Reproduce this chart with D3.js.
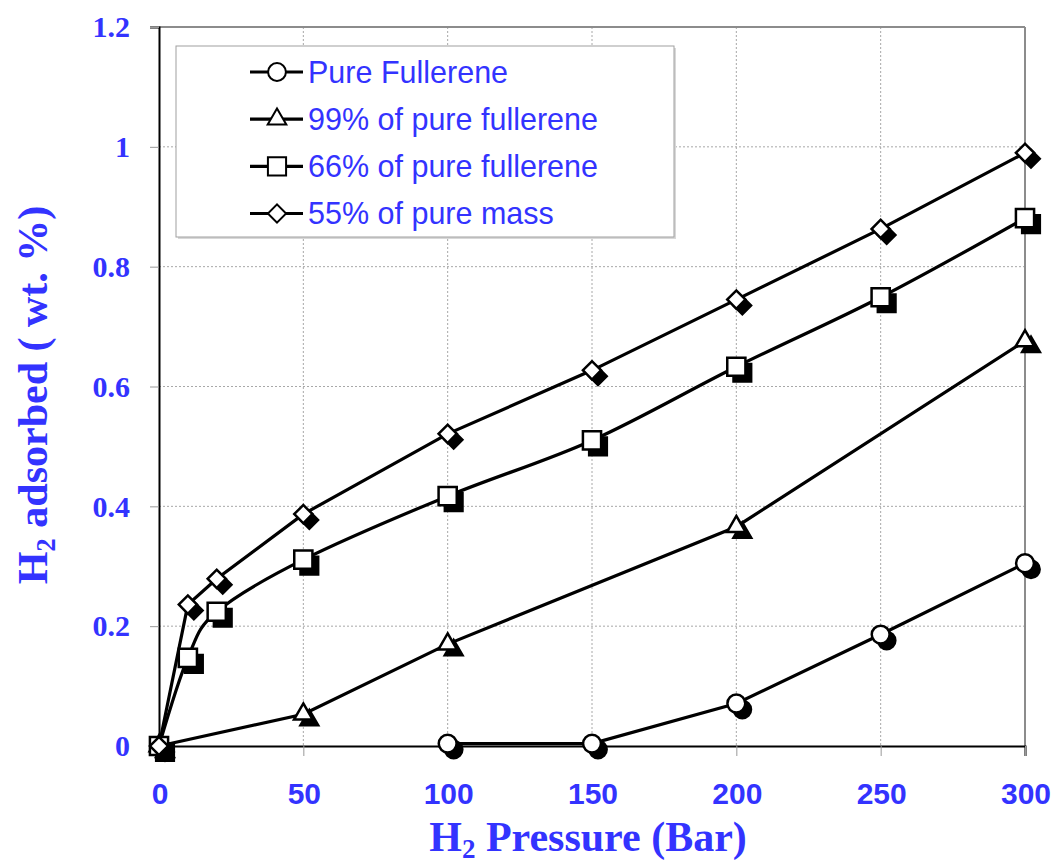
<!DOCTYPE html>
<html>
<head>
<meta charset="utf-8">
<script src="https://cdnjs.cloudflare.com/ajax/libs/d3/7.8.5/d3.min.js"></script>
<style>
  body { margin: 0; background: #fff; }
  svg { display: block; }
</style>
</head>
<body>
<div id="chart-container"></div>
<script>
// CHART DATA
var xTicks = [0, 50, 100, 150, 200, 250, 300];
var yTicks = [0, 0.2, 0.4, 0.6, 0.8, 1, 1.2];
var yTickLabels = ["0", "0.2", "0.4", "0.6", "0.8", "1", "1.2"];

var seriesNames = ["Pure Fullerene", "99% of pure fullerene", "66% of pure fullerene", "55% of pure mass"];

var pressurePure = [100, 150, 200, 250, 300];
var pureFullerene = [0.004, 0.004, 0.071, 0.186, 0.305];

var pressure99 = [0, 50, 100, 200, 300];
var fullerene99 = [0, 0.053, 0.17, 0.366, 0.676];

var pressureAll = [0, 10, 20, 50, 100, 150, 200, 250, 300];
var fullerene66 = [0, 0.147, 0.224, 0.311, 0.417, 0.51, 0.633, 0.749, 0.881];
var pureMass55 = [0, 0.236, 0.279, 0.387, 0.521, 0.627, 0.745, 0.863, 0.99];

// SIZES
var W = 1055, H = 868;
var margin = {top: 27, left: 159, right: 30, bottom: 122};
var width = 1025 - margin.left,
    height = 746 - margin.top;
var blue = "#3333ff";

var svg = d3.select("#chart-container").append("svg")
  .attr("width", W)
  .attr("height", H);

var xScale = d3.scaleLinear().domain([0, 300]).range([0, width]);
var yScale = d3.scaleLinear().domain([0, 1.2]).range([height, 0]);

var g = svg.append("g")
  .attr("transform", "translate(" + margin.left + "," + margin.top + ")");

// GRID LINES (DOTTED)
g.append("g").selectAll("line")
  .data(xTicks.slice(1, -1))
  .enter().append("line")
    .attr("x1", function(d){ return xScale(d); })
    .attr("x2", function(d){ return xScale(d); })
    .attr("y1", 0)
    .attr("y2", height)
    .style("stroke", "#a8a8a8")
    .style("stroke-width", 1)
    .style("stroke-dasharray", "2,2");

g.append("g").selectAll("line")
  .data(yTicks.slice(1, -1))
  .enter().append("line")
    .attr("x1", 0)
    .attr("x2", width)
    .attr("y1", function(d){ return yScale(d); })
    .attr("y2", function(d){ return yScale(d); })
    .style("stroke", "#a8a8a8")
    .style("stroke-width", 1)
    .style("stroke-dasharray", "2,2");

// TOP AND RIGHT BORDER (GRAY)
g.append("line")
  .attr("x1", 0).attr("x2", width)
  .attr("y1", yScale(1.2)).attr("y2", yScale(1.2))
  .style("stroke", "#8c8c8c").style("stroke-width", 2);
g.append("line")
  .attr("x1", xScale(300)).attr("x2", xScale(300))
  .attr("y1", 0).attr("y2", height)
  .style("stroke", "#8c8c8c").style("stroke-width", 2);

// AXES
var xAxis = d3.axisBottom(xScale).tickValues(xTicks).tickSize(10).tickFormat("");
var xGuide = g.append("g").attr("transform", "translate(0," + height + ")");
xAxis(xGuide);
xGuide.selectAll(".tick line").style("stroke", "#999").style("stroke-width", 1);
xGuide.select("path").style("stroke", "#000").style("stroke-width", 2);

var yAxis = d3.axisLeft(yScale).tickValues(yTicks).tickSize(9).tickFormat("");
var yGuide = g.append("g");
yAxis(yGuide);
yGuide.selectAll(".tick line").style("stroke", "#999").style("stroke-width", 1);
yGuide.select("path").style("stroke", "#000").style("stroke-width", 2);

// TICK LABELS
g.append("g").selectAll("text")
  .data(xTicks)
  .enter().append("text")
    .attr("x", function(d){ return xScale(d) + 1; })
    .attr("y", height + 58)
    .attr("text-anchor", "middle")
    .style("font-family", "'Liberation Sans', Arial, sans-serif")
    .style("font-weight", "bold")
    .style("font-size", "30px")
    .style("fill", blue)
    .text(function(d){ return d; });

g.append("g").selectAll("text")
  .data(yTicks)
  .enter().append("text")
    .attr("x", -29)
    .attr("y", function(d){ return yScale(d); })
    .attr("dy", "0.34em")
    .attr("text-anchor", "end")
    .style("font-family", "'Liberation Serif', 'Times New Roman', serif")
    .style("font-weight", "bold")
    .style("font-size", "30px")
    .style("fill", blue)
    .text(function(d, i){ return yTickLabels[i]; });

// AXIS TITLES
var xTitle = svg.append("text")
  .attr("x", 588)
  .attr("y", 851)
  .attr("text-anchor", "middle")
  .style("font-family", "'Liberation Serif', 'Times New Roman', serif")
  .style("font-weight", "bold")
  .style("font-size", "42px")
  .style("fill", blue);
xTitle.append("tspan").text("H");
xTitle.append("tspan").attr("dy", 7).style("font-size", "27px").text("2");
xTitle.append("tspan").attr("dy", -7).text(" Pressure (Bar)");

var yTitle = svg.append("text")
  .attr("transform", "translate(47,395) rotate(-90)")
  .attr("text-anchor", "middle")
  .style("font-family", "'Liberation Serif', 'Times New Roman', serif")
  .style("font-weight", "bold")
  .style("font-size", "42px")
  .style("fill", blue);
yTitle.append("tspan").text("H");
yTitle.append("tspan").attr("dy", 8).style("font-size", "27px").text("2");
yTitle.append("tspan").attr("dy", -8).text(" adsorbed ( wt. %)");

// MARKER SHAPES
var shapes = [
  d3.symbol().type(d3.symbolCircle).size(250),
  d3.symbol().type(d3.symbolTriangle).size(150),
  d3.symbol().type(d3.symbolSquare).size(330),
  d3.symbol().type(d3.symbolSquare).size(165)
];
var rotations = [0, 0, 0, 45];

var series = [
  {xs: pressurePure, ys: pureFullerene, curve: d3.curveLinear},
  {xs: pressure99, ys: fullerene99, curve: d3.curveLinear},
  {xs: pressureAll, ys: fullerene66, curve: d3.curveCatmullRom.alpha(0)},
  {xs: pressureAll, ys: pureMass55, curve: d3.curveLinear}
];

// LINES FIRST
series.forEach(function(s){
  var pts = s.xs.map(function(x, i){ return [x, s.ys[i]]; });
  var line = d3.line()
    .x(function(d){ return xScale(d[0]); })
    .y(function(d){ return yScale(d[1]); })
    .curve(s.curve);
  g.append("path")
    .datum(pts)
    .attr("d", line)
    .style("fill", "none")
    .style("stroke", "#000")
    .style("stroke-width", 3.2);
});

// THEN MARKERS WITH THEIR BLACK SHADOW
series.forEach(function(s, k){
  var pts = s.xs.map(function(x, i){ return [x, s.ys[i]]; });
  g.append("g").selectAll("path")
    .data(pts)
    .enter().append("path")
      .attr("d", shapes[k]())
      .attr("transform", function(d){
        return "translate(" + (xScale(d[0]) + 6) + "," + (yScale(d[1]) + 6) + ") rotate(" + rotations[k] + ")";
      })
      .style("fill", "#000")
      .style("stroke", "#000")
      .style("stroke-width", 2);
  g.append("g").selectAll("path")
    .data(pts)
    .enter().append("path")
      .attr("d", shapes[k]())
      .attr("transform", function(d){
        return "translate(" + xScale(d[0]) + "," + yScale(d[1]) + ") rotate(" + rotations[k] + ")";
      })
      .style("fill", "#fff")
      .style("stroke", "#000")
      .style("stroke-width", 2.5);
});

// LEGEND
var legend = svg.append("g");
legend.append("rect")
  .attr("x", 178).attr("y", 48)
  .attr("width", 498).attr("height", 191)
  .style("fill", "#d8d8d8");
legend.append("rect")
  .attr("x", 176).attr("y", 46)
  .attr("width", 498).attr("height", 191)
  .style("fill", "#fff")
  .style("stroke", "#a0a0a0")
  .style("stroke-width", 1);

var legendY = d3.scalePoint().domain(d3.range(4)).range([72, 213.5]);

var rows = legend.selectAll(".row")
  .data(seriesNames)
  .enter().append("g")
    .attr("transform", function(d, i){ return "translate(0," + legendY(i) + ")"; });

rows.append("line")
  .attr("x1", 250).attr("x2", 303)
  .attr("y1", 0).attr("y2", 0)
  .style("stroke", "#000").style("stroke-width", 3.2);

rows.append("path")
  .attr("d", function(d, i){ return shapes[i](); })
  .attr("transform", function(d, i){ return "translate(277,0) rotate(" + rotations[i] + ")"; })
  .style("fill", "#fff")
  .style("stroke", "#000")
  .style("stroke-width", 2);

rows.append("text")
  .attr("x", 308)
  .attr("y", 10.5)
  .style("font-family", "'Liberation Sans', Arial, sans-serif")
  .style("font-size", "30.5px")
  .style("fill", blue)
  .text(function(d){ return d; });
</script>
</body>
</html>
